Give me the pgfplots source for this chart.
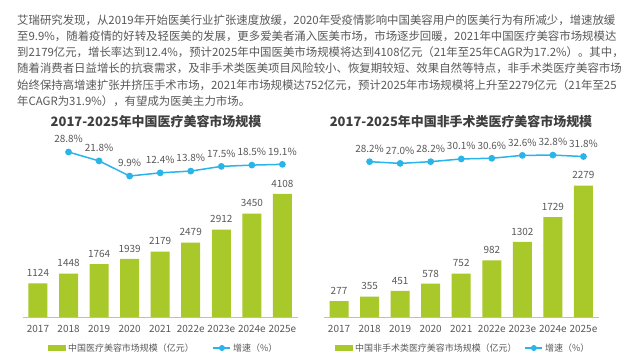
\documentclass[border=0pt]{standalone}
\usepackage{pgfplots}
\pgfplotsset{compat=1.18}
\usepackage{fontspec}
\setmainfont{Noto Sans CJK SC}
\definecolor{barg}{HTML}{A9C92B}
\definecolor{lineb}{HTML}{29B5EA}
\definecolor{txtg}{HTML}{595959}
\definecolor{titc}{HTML}{3F3F3F}
\definecolor{axg}{HTML}{BFBFBF}
\pgfplotsset{
  barax/.style={
    anchor=south west, scale only axis, width=275bp, height=150bp,
    xmin=-0.5, xmax=8.5, ymin=0, clip=false,
    axis x line*=bottom, axis y line=none,
    x axis line style={draw=axg, line width=0.8bp, -},
    xtick={0,...,8}, major tick length=0pt,
    xticklabels={2017,2018,2019,2020,2021,2022e,2023e,2024e,2025e},
    xticklabel style={font=\fontsize{10}{12}\selectfont, text=txtg, yshift=-5bp},
    /pgf/number format/assume math mode=true,
    /pgf/number format/1000 sep={},
  },
  lineax/.style={
    anchor=south west, scale only axis, width=275bp,
    xmin=-0.5, xmax=8.5, ymin=0, ymax=40, clip=false, hide axis,
  },
  barplot/.style={ybar, bar width=19bp, fill=barg, draw=none,
    nodes near coords, point meta=y,
    every node near coord/.append style={font=\fontsize{10}{12}\selectfont, text=txtg, yshift=3bp},
    legend image code/.code={\fill[barg] (0bp,-3bp) rectangle (18bp,3bp);}},
  lineplot/.style={color=lineb, line width=1.5bp, mark=*, mark size=2.6bp,
    mark options={fill=lineb, draw=lineb},
    nodes near coords={\pgfplotspointmeta\%}, point meta=explicit symbolic,
    every node near coord/.append style={font=\fontsize{10}{12}\selectfont, text=txtg, yshift=5bp}},
}
\begin{document}
\begin{tikzpicture}
\useasboundingbox (0,0) rectangle (640bp,360bp);
\fill[white] (0,0) rectangle (640bp,360bp);
\begin{scope}[every node/.style={anchor=base west, inner sep=0pt, text=txtg, font=\fontsize{11.45}{14}\selectfont}]
\node at (17bp,335.6bp) {艾瑞研究发现，从2019年开始医美行业扩张速度放缓，2020年受疫情影响中国美容用户的医美行为有所减少，增速放缓};
\node at (17bp,319.4bp) {至9.9\%，随着疫情的好转及轻医美的发展，更多爱美者涌入医美市场，市场逐步回暖，2021年中国医疗美容市场规模达};
\node at (17bp,303.2bp) {到2179亿元，增长率达到12.4\%，预计2025年中国医美市场规模将达到4108亿元（21年至25年CAGR为17.2\%）。其中，};
\node at (17bp,287bp) {随着消费者日益增长的抗衰需求，及非手术类医美项目风险较小、恢复期较短、效果自然等特点，非手术类医疗美容市场};
\node at (17bp,270.8bp) {始终保持高增速扩张并挤压手术市场，2021年市场规模达752亿元，预计2025年市场规模将上升至2279亿元（21年至25};
\node at (17bp,254.6bp) {年CAGR为31.9\%），有望成为医美主力市场。};
\end{scope}
\node[text=titc, font=\fontsize{13}{15}\selectfont\bfseries] at (156bp,238bp) {2017-2025年中国医疗美容市场规模};
\node[text=titc, font=\fontsize{13}{15}\selectfont\bfseries] at (461bp,238bp) {2017-2025年中国非手术类医疗美容市场规模};
% left chart
\begin{axis}[barax, at={(22.7bp,43bp)}, ymax=5000,
  legend style={at={(0.092,-0.2067)}, anchor=west, draw=none, fill=none,
      legend columns=2, font=\fontsize{9}{11}\selectfont, text=txtg, inner sep=0pt,
      /tikz/every even column/.append style={column sep=17bp}}]
\addplot[barplot] coordinates {(0,1124) (1,1448) (2,1764) (3,1939) (4,2179) (5,2479) (6,2912) (7,3450) (8,4108)};
\addlegendentry{中国医疗美容市场规模（亿元）}
\addlegendimage{color=lineb, line width=1.5bp, mark=*, mark size=2.2bp, mark options={fill=lineb}}
\addlegendentry{增速（\%）}
\end{axis}
\begin{axis}[lineax, at={(22.7bp,171.4bp)}, height=50.8bp]
\addplot[lineplot] coordinates {(1,28.8)[28.8] (2,21.8)[21.8] (3,9.9)[9.9] (4,12.4)[12.4] (5,13.8)[13.8] (6,17.5)[17.5] (7,18.5)[18.5] (8,19.1)[19.1]};
\end{axis}
% right chart
\begin{axis}[barax, at={(323.75bp,43bp)}, ymax=2600,
  legend style={at={(0.041,-0.2067)}, anchor=west, draw=none, fill=none,
      legend columns=2, font=\fontsize{9}{11}\selectfont, text=txtg, inner sep=0pt,
      /tikz/every even column/.append style={column sep=6bp}}]
\addplot[barplot] coordinates {(0,277) (1,355) (2,451) (3,578) (4,752) (5,982) (6,1302) (7,1729) (8,2279)};
\addlegendentry{中国非手术类医疗美容市场规模（亿元）}
\addlegendimage{color=lineb, line width=1.5bp, mark=*, mark size=2.2bp, mark options={fill=lineb}}
\addlegendentry{增速（\%）}
\end{axis}
\begin{axis}[lineax, at={(323.75bp,158bp)}, height=57.2bp]
\addplot[lineplot] coordinates {(1,28.2)[28.2] (2,27.0)[27.0] (3,28.2)[28.2] (4,30.1)[30.1] (5,30.6)[30.6] (6,32.6)[32.6] (7,32.8)[32.8] (8,31.8)[31.8]};
\end{axis}
\end{tikzpicture}
\end{document}
